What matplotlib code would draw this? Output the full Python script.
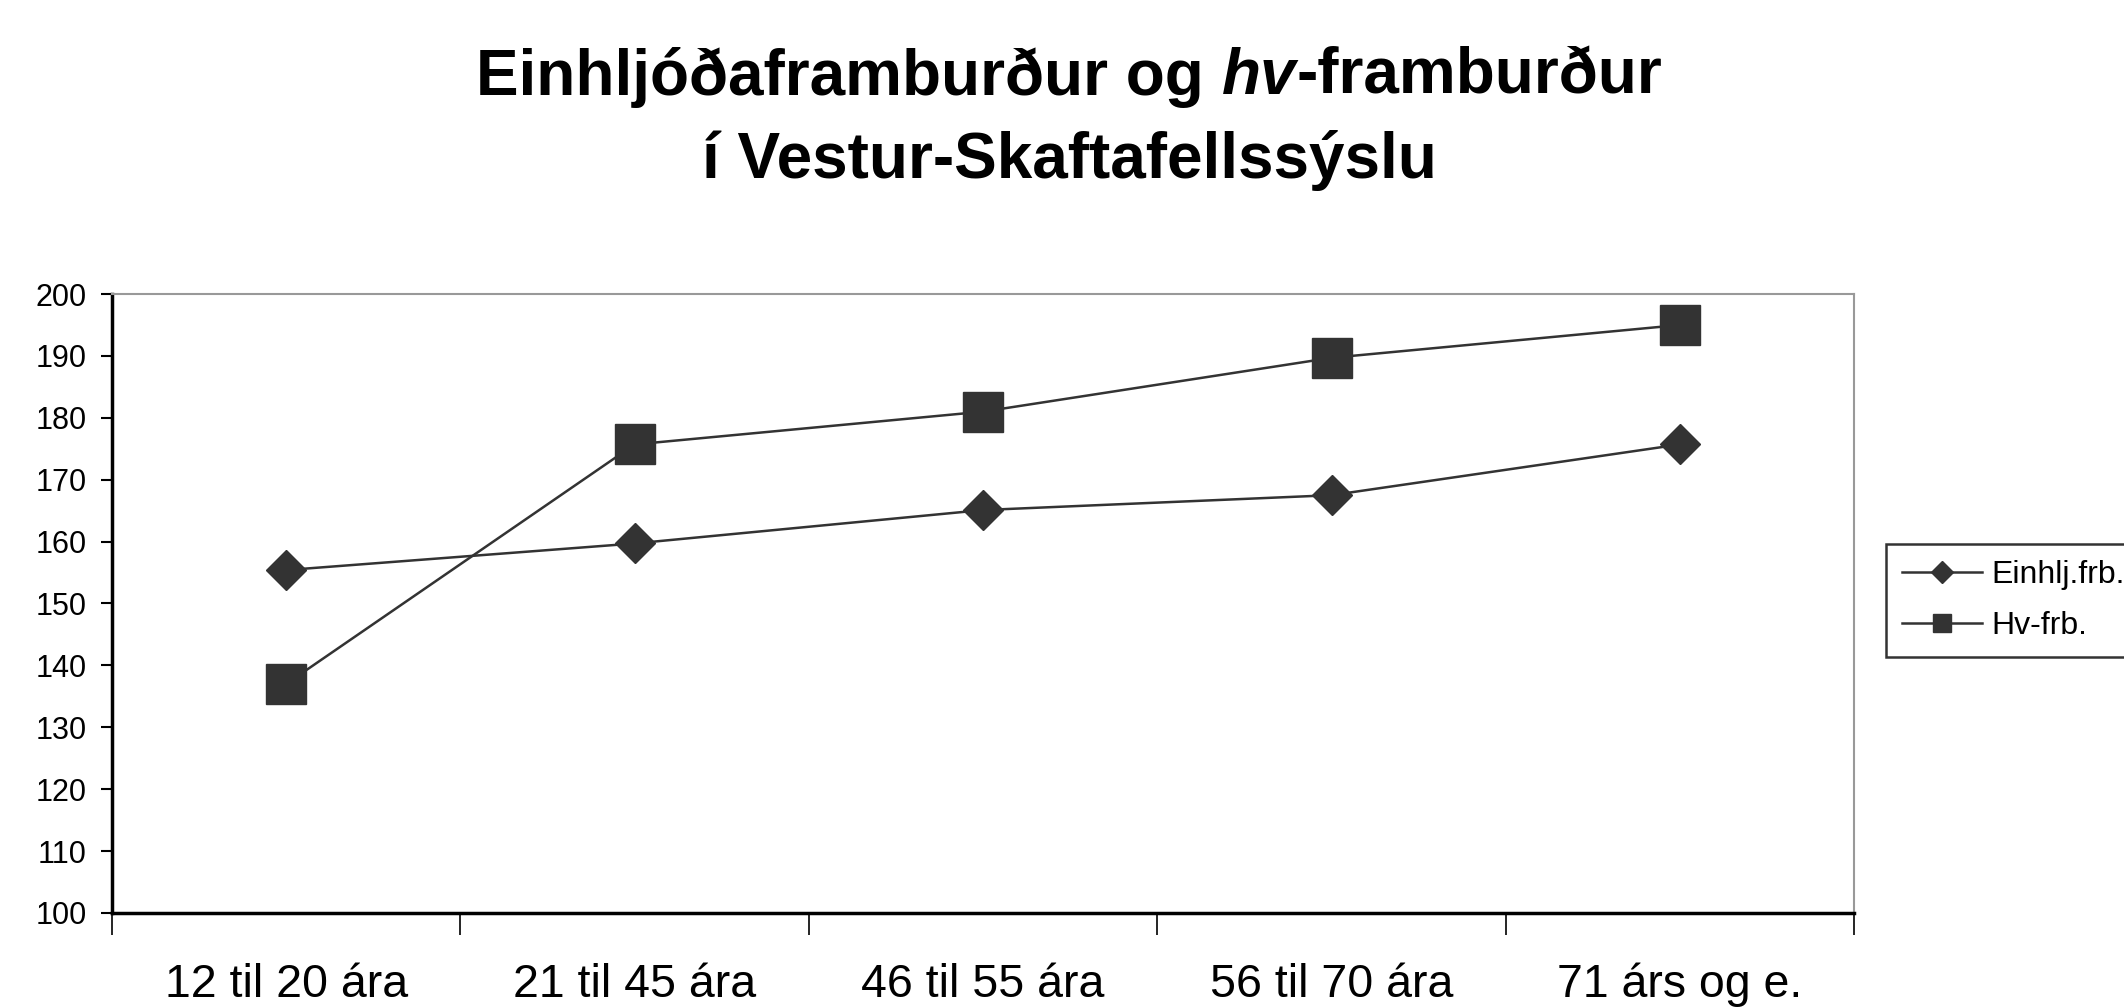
import matplotlib
matplotlib.use("Agg")
import matplotlib.pyplot as plt
from matplotlib.ticker import MultipleLocator, FixedLocator, NullFormatter

plt.rcParams['font.family'] = ['Liberation Sans', 'DejaVu Sans']

categories = ["12 til 20 ára", "21 til 45 ára", "46 til 55 ára", "56 til 70 ára", "71 árs og e."]
einhlj = [155.4, 159.7, 165.1, 167.5, 175.7]
hv = [137.0, 175.7, 181.0, 189.7, 195.0]
series_names = ["Einhlj.frb.", "Hv-frb."]

fig = plt.figure(figsize=(21.24, 10.07), dpi=100)
ax = fig.add_axes([0.0527, 0.0934, 0.873 - 0.0527, 0.708 - 0.0934])

x = list(range(len(categories)))
col = "#333333"
ax.plot(x, einhlj, color=col, lw=1.8, marker="D", ms=20, mfc=col, mec=col, label=series_names[0])
ax.plot(x, hv, color=col, lw=1.8, marker="s", ms=29, mfc=col, mec=col, label=series_names[1])

ax.set_xlim(-0.5, len(categories) - 0.5)
ax.set_ylim(100, 200)
ax.yaxis.set_major_locator(MultipleLocator(10))
ax.tick_params(axis='y', direction='out', length=8, width=1.5, labelsize=22, pad=10)

ax.xaxis.set_major_locator(FixedLocator([i - 0.5 for i in range(len(categories) + 1)]))
ax.xaxis.set_major_formatter(NullFormatter())
ax.xaxis.set_minor_locator(FixedLocator(x))
ax.set_xticklabels(categories, minor=True)
ax.tick_params(axis='x', which='major', direction='out', length=16, width=1.2)
ax.tick_params(axis='x', which='minor', length=0, labelsize=33.5, pad=36)

for s in ['top', 'right']:
    ax.spines[s].set_color('#999999')
    ax.spines[s].set_linewidth(1.5)
for s in ['left', 'bottom']:
    ax.spines[s].set_color('black')
    ax.spines[s].set_linewidth(2.5)

leg = fig.legend(loc='upper left', bbox_to_anchor=(1886 / 2124, 1 - 544 / 1007),
                 frameon=True, fancybox=False, fontsize=23, handlelength=2.5,
                 markerscale=0.46, borderpad=0.5, labelspacing=0.65, handletextpad=0.3,
                 borderaxespad=0)
leg.get_frame().set_edgecolor('black')
leg.get_frame().set_linewidth(1.8)
lh = leg.legend_handles
lh[0].set_markersize(11)
lh[1].set_markersize(13.5)

# Title with mixed italic
fig.canvas.draw()
r = fig.canvas.get_renderer()
tsize = 46
parts = [("Einhljóðaframburður og ", 'normal'), ("hv", 'italic'), ("-framburður", 'normal')]
texts = []
widths = []
for s, st in parts:
    t = fig.text(0, 0, s, fontsize=tsize, fontweight='bold', style=st, va='center', ha='left')
    bb = t.get_window_extent(renderer=r)
    texts.append(t)
    widths.append(bb.width)
total = sum(widths)
cx = 1069 / 2124 * fig.bbox.width
xpos = cx - total / 2
y1 = 1 - 77 / 1007
for t, w in zip(texts, widths):
    t.set_position((xpos / fig.bbox.width, y1))
    xpos += w
fig.text(cx / fig.bbox.width, 1 - 160 / 1007, "í Vestur-Skaftafellssýslu", fontsize=tsize,
         fontweight='bold', ha='center', va='center')

fig.savefig("out.png", dpi=100)
